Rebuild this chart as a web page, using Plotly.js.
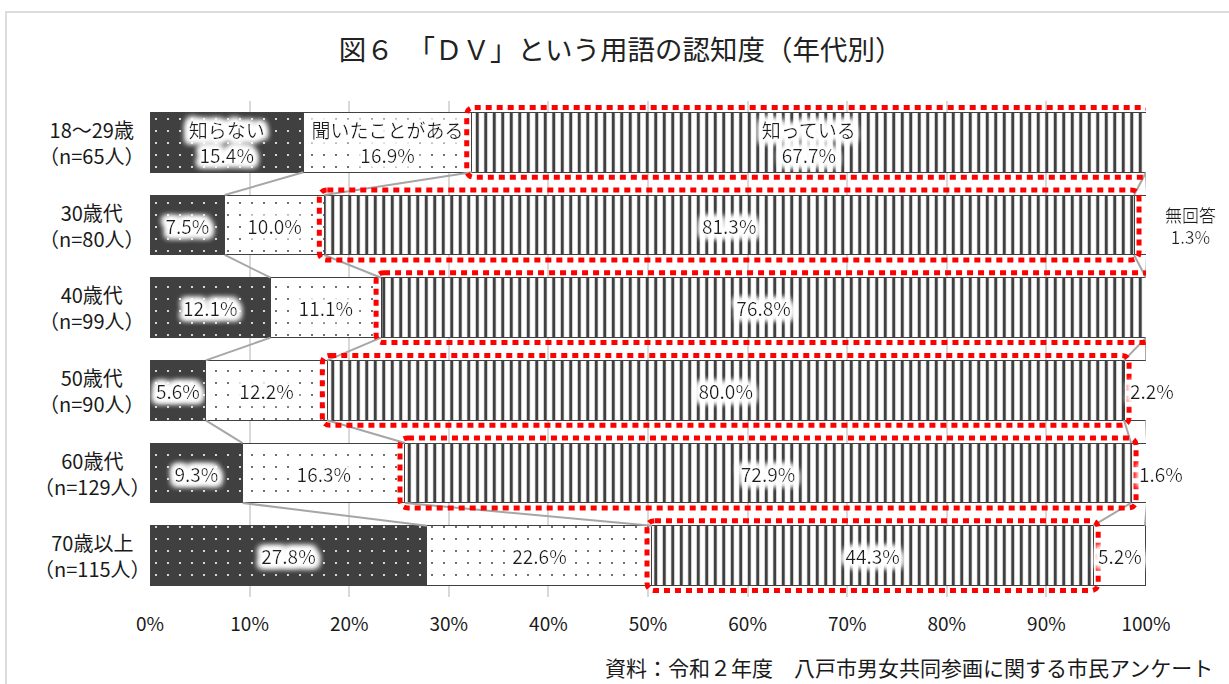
<!DOCTYPE html>
<html>
<head>
<meta charset="utf-8">
<script src="https://cdn.plot.ly/plotly-3.0.1.min.js"></script>
<style>
  html, body { margin: 0; padding: 0; background: #fff; }
  #chart { width: 1229px; height: 684px; }
  #frame { position: absolute; left: 5px; top: 11px; width: 1240px; height: 700px;
           border: 2px solid #dcdcdc; pointer-events: none; }
</style>
</head>
<body>
<div id="chart"></div>
<div id="frame"></div>
<script>
// 年代別の回答割合（%）
const ageGroups   = ['18〜29歳', '30歳代', '40歳代', '50歳代', '60歳代', '70歳以上'];
const sampleSizes = ['n=65人', 'n=80人', 'n=99人', 'n=90人', 'n=129人', 'n=115人'];
const seriesNames = ['知らない', '聞いたことがある', '知っている', '無回答'];
const dontKnow = [15.4, 7.5, 12.1, 5.6, 9.3, 27.8];
const heardOf  = [16.9, 10.0, 11.1, 12.2, 16.3, 22.6];
const know     = [67.7, 81.3, 76.8, 80.0, 72.9, 44.3];
const noAnswer = [0, 1.3, 0, 2.2, 1.6, 5.2];

const titleText  = '図６　「ＤＶ」という用語の認知度（年代別）';
const sourceText = '資料：令和２年度　八戸市男女共同参画に関する市民アンケート';

// ---- 見た目の設定 ----
const FONT = '"Noto Sans CJK JP", "Noto Sans", sans-serif';
const TEXT_COLOR = '#1a1a1a';
const DARK = '#404040';
const BARGAP = 0.275;
const HALF = (1 - BARGAP) / 2;
// 無回答ラベルのずらし量（px）
const naShift = [0, 44, 0, 6, 15, -26];

const rows = ageGroups.map((_, i) => i);
const series = [dontKnow, heardOf, know, noAnswer];

function labels(vals, name) {
  return vals.map((v, i) => (i === 0 ? name + '<br>' : '') + v.toFixed(1) + '%');
}

const textStyle = { family: FONT, size: 19, color: TEXT_COLOR };

const patterns = [
  { shape: '.', bgcolor: DARK, fgcolor: '#ffffff', fgopacity: 1, size: 12, solidity: 0.024, fillmode: 'overlay' },
  { shape: '.', bgcolor: '#ffffff', fgcolor: DARK, fgopacity: 1, size: 12, solidity: 0.022, fillmode: 'overlay' },
  { shape: '|', bgcolor: '#ffffff', fgcolor: DARK, fgopacity: 1, size: 8.5, solidity: 0.36, fillmode: 'overlay' },
  null
];
const baseColors = [DARK, '#ffffff', '#ffffff', '#ffffff'];

const traces = series.map((vals, k) => {
  const t = {
    type: 'bar',
    orientation: 'h',
    name: seriesNames[k],
    x: vals,
    y: rows,
    marker: { color: baseColors[k], line: { color: DARK, width: 1 } },
    hoverinfo: 'skip',
    showlegend: false
  };
  if (patterns[k]) t.marker.pattern = patterns[k];
  if (k < 3) {
    t.text = labels(vals, seriesNames[k]);
    t.textposition = 'inside';
    t.insidetextanchor = 'middle';
    t.textangle = 0;
    t.constraintext = 'none';
    t.insidetextfont = textStyle;
  } else {
    t.textposition = 'none';
  }
  return t;
});

// 隣り合う棒の区切り位置をつなぐ線
const cum = rows.map(i => {
  let s = 0;
  return series.map(v => (s += v[i]));
});
const cx = [], cy = [];
for (let i = 0; i < rows.length - 1; i++) {
  for (let k = 0; k < series.length; k++) {
    cx.push(cum[i][k], cum[i + 1][k], null);
    cy.push(i + HALF, i + 1 - HALF, null);
  }
}
traces.push({
  type: 'scatter', mode: 'lines', x: cx, y: cy,
  line: { color: '#a6a6a6', width: 2 },
  hoverinfo: 'skip', showlegend: false
});

// 「知っている」を囲む角丸の赤い点線
const padX = 0.5, padY = 0.06, rx = 0.8, ry = 0.1;
function roundRect(x0, x1, y0, y1) {
  return 'M' + (x0 + rx) + ',' + y0 +
         ' L' + (x1 - rx) + ',' + y0 +
         ' Q' + x1 + ',' + y0 + ' ' + x1 + ',' + (y0 + ry) +
         ' L' + x1 + ',' + (y1 - ry) +
         ' Q' + x1 + ',' + y1 + ' ' + (x1 - rx) + ',' + y1 +
         ' L' + (x0 + rx) + ',' + y1 +
         ' Q' + x0 + ',' + y1 + ' ' + x0 + ',' + (y1 - ry) +
         ' L' + x0 + ',' + (y0 + ry) +
         ' Q' + x0 + ',' + y0 + ' ' + (x0 + rx) + ',' + y0 + ' Z';
}
const shapes = rows.map(i => ({
  type: 'path', xref: 'x', yref: 'y',
  path: roundRect(
    dontKnow[i] + heardOf[i] - padX,
    dontKnow[i] + heardOf[i] + know[i] + padX,
    i - HALF - padY, i + HALF + padY),
  line: { color: '#ff0000', width: 5, dash: '6px,5px' },
  layer: 'above'
}));

const annotations = [];
// 年代ラベル（2行）
rows.forEach(i => {
  annotations.push({
    xref: 'paper', yref: 'y', x: -0.058, y: i,
    xanchor: 'center', yanchor: 'middle', align: 'center',
    text: ageGroups[i] + '<br>（' + sampleSizes[i] + '）',
    showarrow: false,
    font: { family: FONT, size: 20, color: TEXT_COLOR }
  });
});
// 無回答ラベル
const glowAnnIdx = [];
let naNamed = false;
rows.forEach(i => {
  if (noAnswer[i] <= 0) return;
  const withName = !naNamed;
  naNamed = true;
  glowAnnIdx.push(annotations.length);
  annotations.push({
    xref: 'x', yref: 'y', x: 100, y: i, xshift: naShift[i],
    xanchor: 'center', yanchor: 'middle', align: 'center',
    text: (withName ? seriesNames[3] + '<br>' : '') + noAnswer[i].toFixed(1) + '%',
    showarrow: false,
    font: { family: FONT, size: withName ? 17 : 19, color: TEXT_COLOR }
  });
});
// 出典
annotations.push({
  xref: 'paper', yref: 'paper', x: 1.069, y: -0.141,
  xanchor: 'right', yanchor: 'middle',
  text: sourceText, showarrow: false,
  font: { family: '"Noto Sans CJK JP", sans-serif', size: 21, color: TEXT_COLOR }
});

const layout = {
  width: 1229, height: 684,
  margin: { l: 150, r: 83, t: 101, b: 87 },
  paper_bgcolor: '#ffffff', plot_bgcolor: '#ffffff',
  barmode: 'stack', bargap: BARGAP,
  title: {
    text: titleText,
    x: 0.505, xref: 'container', xanchor: 'center',
    y: 1 - 50 / 684, yref: 'container', yanchor: 'middle',
    font: { family: '"Noto Sans CJK JP", sans-serif', size: 27.5, color: '#222' }
  },
  xaxis: {
    range: [0, 100], dtick: 10, ticksuffix: '%',
    showgrid: true, gridcolor: '#d9d9d9', gridwidth: 2,
    zeroline: false, showline: false, ticks: '',
    ticklabelstandoff: 14,
    tickfont: { family: FONT, size: 19, color: TEXT_COLOR },
    fixedrange: true
  },
  yaxis: {
    range: [5.5, -0.5], showticklabels: false, showgrid: false,
    zeroline: false, showline: false, ticks: '', fixedrange: true
  },
  shapes: shapes,
  annotations: annotations,
  showlegend: false
};

// 数値ラベルの白いぼかし（SVG フィルター）
function addGlow(gd) {
  const NS = 'http://www.w3.org/2000/svg';
  const svg = gd.querySelector('svg.main-svg');
  let defs = svg.querySelector('defs');
  if (!defs) { defs = document.createElementNS(NS, 'defs'); svg.insertBefore(defs, svg.firstChild); }
  const f = document.createElementNS(NS, 'filter');
  f.setAttribute('id', 'label-glow');
  f.setAttribute('x', '-40%'); f.setAttribute('y', '-80%');
  f.setAttribute('width', '180%'); f.setAttribute('height', '260%');
  f.innerHTML =
    '<feMorphology in="SourceAlpha" operator="dilate" radius="3" result="thick"/>' +
    '<feGaussianBlur in="thick" stdDeviation="3" result="soft"/>' +
    '<feFlood flood-color="#ffffff" result="white"/>' +
    '<feComposite in="white" in2="soft" operator="in" result="halo"/>' +
    '<feMerge><feMergeNode in="halo"/><feMergeNode in="halo"/><feMergeNode in="halo"/>' +
    '<feMergeNode in="SourceGraphic"/></feMerge>';
  defs.appendChild(f);
  gd.querySelectorAll('.bars .bartext').forEach(t => t.setAttribute('filter', 'url(#label-glow)'));
  glowAnnIdx.forEach(idx => {
    const t = gd.querySelector('g.annotation[data-index="' + idx + '"] text.annotation-text');
    if (t) t.setAttribute('filter', 'url(#label-glow)');
  });
}

Plotly.newPlot('chart', traces, layout, { displayModeBar: false, staticPlot: true })
  .then(addGlow);
</script>
</body>
</html>
